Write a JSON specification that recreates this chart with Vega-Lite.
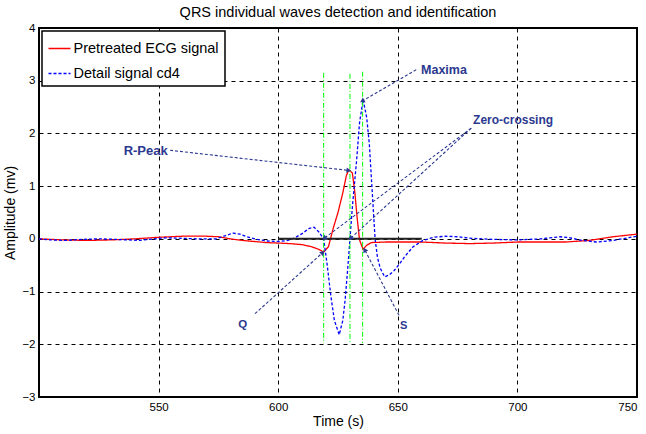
{
  "$schema": "https://vega.github.io/schema/vega-lite/v6.json",
  "width": 598,
  "height": 369,
  "autosize": {"type": "none"},
  "padding": {"left": 39, "top": 28, "right": 9, "bottom": 37},
  "background": "white",
  "title": {"text": "QRS individual waves detection and identification", "fontSize": 14.5, "font": "Liberation Sans", "fontWeight": "normal", "color": "black", "offset": 2, "anchor": "middle"},
  "config": {
    "view": {"stroke": "black", "strokeWidth": 2},
    "axis": {"domain": false, "ticks": false, "grid": true, "gridColor": "black", "gridOpacity": 1, "gridDash": [4, 4], "gridWidth": 1, "labelFont": "Liberation Sans", "labelFontSize": 11.5, "labelColor": "black", "titleFont": "Liberation Sans", "titleFontSize": 14, "titleFontWeight": "normal", "titleColor": "black"},
    "legend": {"orient": "top-left", "offset": 3, "strokeColor": "black", "strokeWidth": 1.5, "fillColor": "white", "padding": 5.5, "symbolType": "stroke", "symbolSize": 484, "symbolStrokeWidth": 1.5, "labelFont": "Liberation Sans", "labelFontSize": 14.5, "labelColor": "black", "labelOffset": 2, "rowPadding": 6, "title": null}
  },
  "datasets": {
    "ecg": [
      {"t": 500, "v": 0.00, "series": "Pretreated ECG signal"},
      {"t": 510, "v": -0.02, "series": "Pretreated ECG signal"},
      {"t": 520, "v": -0.03, "series": "Pretreated ECG signal"},
      {"t": 530, "v": -0.02, "series": "Pretreated ECG signal"},
      {"t": 540, "v": 0.00, "series": "Pretreated ECG signal"},
      {"t": 550, "v": 0.03, "series": "Pretreated ECG signal"},
      {"t": 560, "v": 0.05, "series": "Pretreated ECG signal"},
      {"t": 570, "v": 0.05, "series": "Pretreated ECG signal"},
      {"t": 575, "v": 0.04, "series": "Pretreated ECG signal"},
      {"t": 580, "v": 0.00, "series": "Pretreated ECG signal"},
      {"t": 585, "v": -0.03, "series": "Pretreated ECG signal"},
      {"t": 590, "v": -0.05, "series": "Pretreated ECG signal"},
      {"t": 595, "v": -0.07, "series": "Pretreated ECG signal"},
      {"t": 600, "v": -0.08, "series": "Pretreated ECG signal"},
      {"t": 605, "v": -0.09, "series": "Pretreated ECG signal"},
      {"t": 610, "v": -0.11, "series": "Pretreated ECG signal"},
      {"t": 614, "v": -0.15, "series": "Pretreated ECG signal"},
      {"t": 617, "v": -0.2, "series": "Pretreated ECG signal"},
      {"t": 619, "v": -0.25, "series": "Pretreated ECG signal"},
      {"t": 621, "v": -0.15, "series": "Pretreated ECG signal"},
      {"t": 623, "v": 0.2, "series": "Pretreated ECG signal"},
      {"t": 625, "v": 0.5, "series": "Pretreated ECG signal"},
      {"t": 627, "v": 0.87, "series": "Pretreated ECG signal"},
      {"t": 628.5, "v": 1.2, "series": "Pretreated ECG signal"},
      {"t": 629.5, "v": 1.31, "series": "Pretreated ECG signal"},
      {"t": 631, "v": 1.25, "series": "Pretreated ECG signal"},
      {"t": 632, "v": 0.9, "series": "Pretreated ECG signal"},
      {"t": 633, "v": 0.4, "series": "Pretreated ECG signal"},
      {"t": 634, "v": -0.02, "series": "Pretreated ECG signal"},
      {"t": 635.5, "v": -0.2, "series": "Pretreated ECG signal"},
      {"t": 637, "v": -0.12, "series": "Pretreated ECG signal"},
      {"t": 639, "v": -0.07, "series": "Pretreated ECG signal"},
      {"t": 645, "v": -0.06, "series": "Pretreated ECG signal"},
      {"t": 660, "v": -0.06, "series": "Pretreated ECG signal"},
      {"t": 670, "v": -0.08, "series": "Pretreated ECG signal"},
      {"t": 680, "v": -0.09, "series": "Pretreated ECG signal"},
      {"t": 690, "v": -0.08, "series": "Pretreated ECG signal"},
      {"t": 700, "v": -0.06, "series": "Pretreated ECG signal"},
      {"t": 710, "v": -0.06, "series": "Pretreated ECG signal"},
      {"t": 720, "v": -0.06, "series": "Pretreated ECG signal"},
      {"t": 730, "v": -0.03, "series": "Pretreated ECG signal"},
      {"t": 740, "v": 0.04, "series": "Pretreated ECG signal"},
      {"t": 750, "v": 0.09, "series": "Pretreated ECG signal"},
      {"t": 500, "v": 0.00, "series": "Detail signal cd4"},
      {"t": 505, "v": -0.02, "series": "Detail signal cd4"},
      {"t": 511, "v": -0.03, "series": "Detail signal cd4"},
      {"t": 518, "v": -0.01, "series": "Detail signal cd4"},
      {"t": 525, "v": 0.00, "series": "Detail signal cd4"},
      {"t": 532, "v": -0.01, "series": "Detail signal cd4"},
      {"t": 542, "v": -0.03, "series": "Detail signal cd4"},
      {"t": 548, "v": 0.00, "series": "Detail signal cd4"},
      {"t": 553, "v": 0.02, "series": "Detail signal cd4"},
      {"t": 560, "v": 0.01, "series": "Detail signal cd4"},
      {"t": 567, "v": 0.00, "series": "Detail signal cd4"},
      {"t": 574, "v": 0.00, "series": "Detail signal cd4"},
      {"t": 578, "v": 0.06, "series": "Detail signal cd4"},
      {"t": 581, "v": 0.11, "series": "Detail signal cd4"},
      {"t": 584, "v": 0.09, "series": "Detail signal cd4"},
      {"t": 587, "v": 0.04, "series": "Detail signal cd4"},
      {"t": 591, "v": -0.01, "series": "Detail signal cd4"},
      {"t": 595, "v": -0.04, "series": "Detail signal cd4"},
      {"t": 600, "v": -0.05, "series": "Detail signal cd4"},
      {"t": 604, "v": -0.03, "series": "Detail signal cd4"},
      {"t": 607, "v": 0.02, "series": "Detail signal cd4"},
      {"t": 610, "v": 0.1, "series": "Detail signal cd4"},
      {"t": 613, "v": 0.2, "series": "Detail signal cd4"},
      {"t": 615, "v": 0.22, "series": "Detail signal cd4"},
      {"t": 617, "v": 0.13, "series": "Detail signal cd4"},
      {"t": 619, "v": 0.0, "series": "Detail signal cd4"},
      {"t": 620.5, "v": -0.5, "series": "Detail signal cd4"},
      {"t": 622, "v": -1.08, "series": "Detail signal cd4"},
      {"t": 623.5, "v": -1.55, "series": "Detail signal cd4"},
      {"t": 625.5, "v": -1.82, "series": "Detail signal cd4"},
      {"t": 627, "v": -1.55, "series": "Detail signal cd4"},
      {"t": 628, "v": -1.15, "series": "Detail signal cd4"},
      {"t": 629, "v": -0.6, "series": "Detail signal cd4"},
      {"t": 630, "v": 0.0, "series": "Detail signal cd4"},
      {"t": 631, "v": 0.6, "series": "Detail signal cd4"},
      {"t": 632.8, "v": 1.5, "series": "Detail signal cd4"},
      {"t": 634, "v": 2.2, "series": "Detail signal cd4"},
      {"t": 635.5, "v": 2.64, "series": "Detail signal cd4"},
      {"t": 637, "v": 2.3, "series": "Detail signal cd4"},
      {"t": 638.1, "v": 1.8, "series": "Detail signal cd4"},
      {"t": 639.3, "v": 0.9, "series": "Detail signal cd4"},
      {"t": 640.5, "v": 0.0, "series": "Detail signal cd4"},
      {"t": 641.5, "v": -0.35, "series": "Detail signal cd4"},
      {"t": 642.6, "v": -0.55, "series": "Detail signal cd4"},
      {"t": 644.5, "v": -0.72, "series": "Detail signal cd4"},
      {"t": 646.5, "v": -0.68, "series": "Detail signal cd4"},
      {"t": 648.5, "v": -0.6, "series": "Detail signal cd4"},
      {"t": 650.8, "v": -0.47, "series": "Detail signal cd4"},
      {"t": 653, "v": -0.33, "series": "Detail signal cd4"},
      {"t": 656.4, "v": -0.15, "series": "Detail signal cd4"},
      {"t": 660.5, "v": -0.03, "series": "Detail signal cd4"},
      {"t": 665, "v": 0.03, "series": "Detail signal cd4"},
      {"t": 670, "v": 0.05, "series": "Detail signal cd4"},
      {"t": 675, "v": 0.04, "series": "Detail signal cd4"},
      {"t": 681, "v": 0.01, "series": "Detail signal cd4"},
      {"t": 690, "v": -0.01, "series": "Detail signal cd4"},
      {"t": 700, "v": -0.02, "series": "Detail signal cd4"},
      {"t": 710, "v": 0.0, "series": "Detail signal cd4"},
      {"t": 717.7, "v": 0.04, "series": "Detail signal cd4"},
      {"t": 722, "v": 0.02, "series": "Detail signal cd4"},
      {"t": 727, "v": -0.03, "series": "Detail signal cd4"},
      {"t": 733, "v": -0.06, "series": "Detail signal cd4"},
      {"t": 740, "v": -0.03, "series": "Detail signal cd4"},
      {"t": 750, "v": 0.05, "series": "Detail signal cd4"}
    ],
    "green": [
      {"x": 619, "top": 3.15, "bottom": -1.98},
      {"x": 630, "top": 3.13, "bottom": -1.98},
      {"x": 635.3, "top": 3.17, "bottom": -1.98}
    ],
    "zero": [{"from": 600, "to": 660, "y": 0}],
    "arrows": [
      {"name": "R-Peak", "xs": 554.8, "ys": 1.68, "xe": 629.2, "ye": 1.3},
      {"name": "Maxima", "xs": 657.7, "ys": 3.21, "xe": 635.4, "ye": 2.62},
      {"name": "Zero-crossing 1", "xs": 680.7, "ys": 2.1, "xe": 619.5, "ye": 0.02},
      {"name": "Zero-crossing 2", "xs": 680.7, "ys": 2.1, "xe": 630.5, "ye": 0.02},
      {"name": "Q", "xs": 590.3, "ys": -1.42, "xe": 618.4, "ye": -0.27},
      {"name": "S", "xs": 650.5, "ys": -1.45, "xe": 636.3, "ye": -0.22}
    ],
    "labels": [
      {"label": "R-Peak", "x": 544.6, "y": 1.66},
      {"label": "Maxima", "x": 669.3, "y": 3.21},
      {"label": "Zero-crossing", "x": 698.2, "y": 2.26},
      {"label": "Q", "x": 585.2, "y": -1.63},
      {"label": "S", "x": 652.5, "y": -1.66}
    ]
  },
  "layer": [
    {
      "data": {"name": "ecg"},
      "mark": {"type": "line", "strokeWidth": 1.3},
      "encoding": {
        "x": {"field": "t", "type": "quantitative", "scale": {"domain": [500, 750], "nice": false, "zero": false}, "axis": {"values": [550, 600, 650, 700, 750], "format": "d", "title": "Time (s)", "labelPadding": 4, "titlePadding": 2}},
        "y": {"field": "v", "type": "quantitative", "scale": {"domain": [-3, 4], "nice": false, "zero": false}, "axis": {"values": [-3, -2, -1, 0, 1, 2, 3, 4], "format": "d", "title": "Amplitude (mv)", "labelPadding": 4, "titlePadding": 4}},
        "color": {"field": "series", "type": "nominal", "scale": {"domain": ["Pretreated ECG signal", "Detail signal cd4"], "range": ["#FF0000", "#0000FF"]}, "legend": {"title": null}},
        "strokeDash": {"field": "series", "type": "nominal", "scale": {"domain": ["Pretreated ECG signal", "Detail signal cd4"], "range": [[1, 0], [3, 2]]}, "legend": {"title": null}},
        "order": {"field": "t", "type": "quantitative"}
      }
    },
    {
      "data": {"name": "green"},
      "mark": {"type": "rule", "color": "#00FF00", "strokeWidth": 1, "strokeDash": [5, 2, 1, 2]},
      "encoding": {
        "x": {"field": "x", "type": "quantitative"},
        "y": {"field": "top", "type": "quantitative"},
        "y2": {"field": "bottom"}
      }
    },
    {
      "data": {"name": "zero"},
      "mark": {"type": "rule", "color": "#222222", "strokeWidth": 2},
      "encoding": {
        "x": {"field": "from", "type": "quantitative"},
        "x2": {"field": "to"},
        "y": {"field": "y", "type": "quantitative"}
      }
    },
    {
      "data": {"name": "arrows"},
      "mark": {"type": "rule", "color": "#2B3990", "strokeWidth": 1.1, "strokeDash": [3, 2]},
      "encoding": {
        "x": {"field": "xs", "type": "quantitative"},
        "y": {"field": "ys", "type": "quantitative"},
        "x2": {"field": "xe"},
        "y2": {"field": "ye"}
      }
    },
    {
      "data": {"name": "arrows"},
      "transform": [{"calculate": "atan2((datum.xe - datum.xs) * 2.392, (datum.ye - datum.ys) * 52.7) * 180 / PI", "as": "ang"}],
      "mark": {"type": "point", "shape": "triangle", "filled": true, "color": "#2B3990", "size": 30, "opacity": 1},
      "encoding": {
        "x": {"field": "xe", "type": "quantitative"},
        "y": {"field": "ye", "type": "quantitative"},
        "angle": {"field": "ang", "type": "quantitative", "scale": null}
      }
    },
    {
      "data": {"name": "labels"},
      "mark": {"type": "text", "font": "Liberation Sans", "fontWeight": "bold", "color": "#2B3990", "align": "center", "baseline": "middle"},
      "encoding": {
        "x": {"field": "x", "type": "quantitative"},
        "y": {"field": "y", "type": "quantitative"},
        "text": {"field": "label"},
        "size": {"field": "label", "type": "nominal", "scale": {"domain": ["R-Peak", "Maxima", "Zero-crossing", "Q", "S"], "range": [13, 11, 11.5, 15, 15]}, "legend": null}
      }
    }
  ]
}
